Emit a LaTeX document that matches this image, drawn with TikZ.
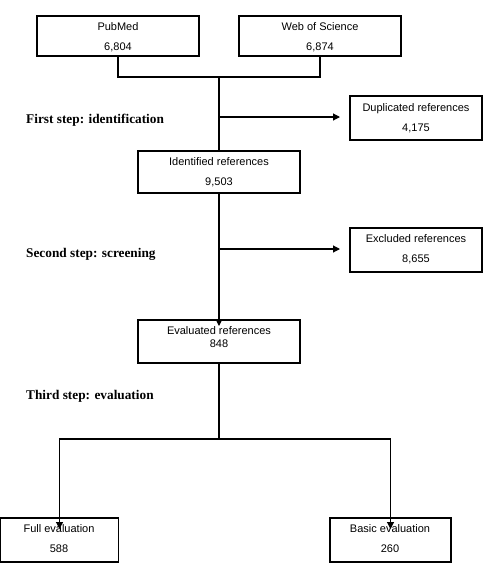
\documentclass[tikz,border=0pt]{standalone}
\usepackage{fontspec}
\setmainfont{Liberation Serif}
\newfontfamily\boxfont{Liberation Sans}
\usetikzlibrary{arrows.meta}
\tikzset{
  box/.style={draw, line width=1.1pt, inner sep=0pt, outer sep=0pt},
  boxtext/.style={font=\boxfont\fontsize{11}{20}\selectfont, align=center, inner sep=0pt},
  steplabel/.style={font=\bfseries\fontsize{13.3}{15}\selectfont, anchor=west, inner sep=0pt},
  conn/.style={line width=1.1pt},
  arr/.style={line width=1.1pt, -{Triangle[length=7pt,width=7pt]}}
}
\begin{document}
\begin{tikzpicture}[x=1pt,y=-1pt]
\useasboundingbox (0,0) rectangle (487,563);
% boxes
\node[box, minimum width=162pt, minimum height=40pt] (pm) at (118,36) {};
\node[boxtext] (pmt) at (118,37) {PubMed\\6,804};
\node[box, minimum width=162pt, minimum height=40pt] (wos) at (320,36) {};
\node[boxtext] (wost) at (320,37) {Web of Science\\6,874};
\node[box, minimum width=132pt, minimum height=44pt] (dup) at (416,118) {};
\node[boxtext] (dupt) at (416,118) {Duplicated references\\4,175};
\node[box, minimum width=162pt, minimum height=42pt] (idr) at (219,172) {};
\node[boxtext] (idrt) at (219,172) {Identified references\\9,503};
\node[box, minimum width=132pt, minimum height=44pt] (exc) at (416,250) {};
\node[boxtext] (exct) at (416,249) {Excluded references\\8,655};
\node[box, minimum width=162pt, minimum height=43pt] (ev) at (219,341.5) {};
\node[boxtext, font=\boxfont\fontsize{11}{13}\selectfont] (evt) at (219,337) {Evaluated references\\848};
\node[box, minimum width=118pt, minimum height=44pt] (full) at (59.5,540) {};
\node[boxtext] (fullt) at (59,539) {Full evaluation\\588};
\node[box, minimum width=121pt, minimum height=44pt] (basic) at (390.5,540) {};
\node[boxtext] (basict) at (390,539) {Basic evaluation\\260};
% labels
\node[steplabel] (l1) at (26,120) {First step: identification};
\node[steplabel] (l2) at (26,254) {Second step: screening};
\node[steplabel] (l3) at (26,396) {Third step: evaluation};
% coordinates
\coordinate (j1) at (219,77);
\coordinate (b1) at (219,117);
\coordinate (b2) at (219,249);
\coordinate (j3) at (219,439);
% connectors
\draw[conn] (pm.south) |- (j1) -| (wos.south);
\draw[conn] (j1) -- (idr.north);
\draw[arr] (b1) -- ([xshift=-10pt]dup.west |- b1);
\draw[conn] (idr.south) -- (b2);
\draw[arr] (b2) -- ([xshift=-10pt]exc.west |- b2);
\draw[arr] (b2) -- ([yshift=-6pt]ev.north);
\draw[conn] (ev.south) -- (j3);
\draw[arr] (j3) -| ([yshift=-11pt]full.north);
\draw[arr] (j3) -| ([yshift=-11pt]basic.north);
\end{tikzpicture}
\end{document}
